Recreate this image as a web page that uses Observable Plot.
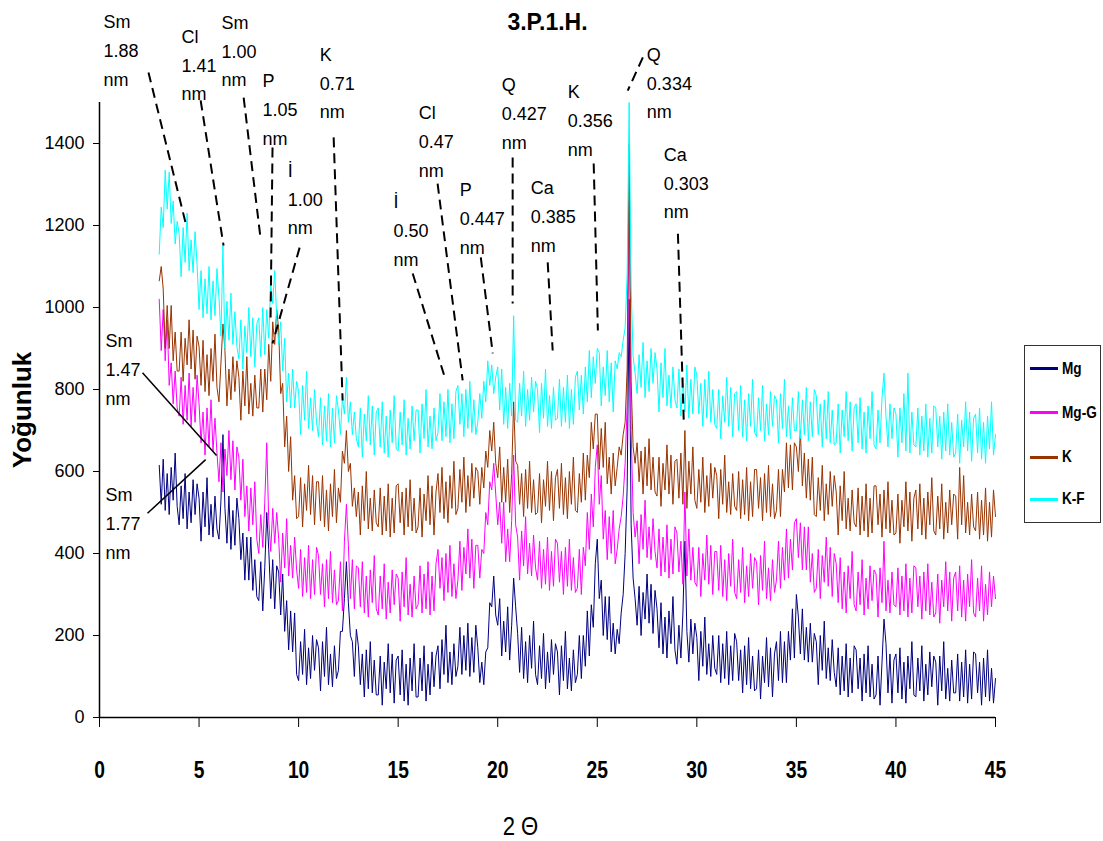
<!DOCTYPE html>
<html><head><meta charset="utf-8">
<script src="https://cdn.jsdelivr.net/npm/d3@7"></script>
<script src="https://cdn.jsdelivr.net/npm/@observablehq/plot@0.6"></script>
<style>
body{margin:0;background:#fff;}
#wrap{position:relative;width:1103px;height:841px;}
#legend{position:absolute;left:1024px;top:345px;width:77px;height:178px;border:1.5px solid #333;box-sizing:border-box;background:#fff;
 font-family:"Liberation Sans",Arial,sans-serif;font-weight:bold;font-size:17px;}
.item{position:absolute;left:5px;height:20px;display:flex;align-items:center;white-space:nowrap;}
.sw{width:28px;height:3px;margin-right:4px;flex:none;}
.lt{display:inline-block;transform:scaleX(0.8);transform-origin:left center;}
</style>
</head><body><div id="wrap"><div id="legend"></div></div>
<script>
// ---- data ----
const seriesNames = ["Mg", "Mg-G", "K", "K-F"];
const seriesColors = ["#000080", "#FF00FF", "#993300", "#00FFFF"];
// 2θ sampling grid: 3.0 .. 45.0 every 0.1°
const theta = d3.range(421).map(i => Math.round((3 + 0.1 * i) * 10) / 10);

const mg = [
 615,520,630,505,595,495,610,530,645,515,
 470,565,485,595,460,550,475,580,495,570,
 535,430,550,465,585,445,520,440,540,460,
 435,530,690,510,425,540,410,505,420,535,
 485,385,450,335,440,335,440,310,385,295,
 285,380,260,365,500,410,290,385,265,370,
 355,250,350,210,285,165,260,160,255,105,
 90,185,105,215,80,170,95,200,115,190,
 170,65,185,100,220,80,155,75,175,95,
 115,210,210,290,380,280,200,185,100,215,
 175,80,155,50,165,70,185,60,140,55,
 55,150,30,135,70,180,60,155,35,140,
 150,55,165,40,130,30,145,65,180,50,
 50,145,65,175,40,130,55,160,75,150,
 175,70,190,105,225,85,160,80,180,100,
 125,220,105,200,115,230,100,195,110,225,
 170,85,135,80,160,170,280,270,345,250,
 225,290,150,235,160,270,140,225,340,270,
 205,110,220,95,185,85,200,120,235,105,
 80,175,95,205,70,160,85,190,105,180,
 160,55,175,90,210,70,145,65,165,85,
 105,200,95,200,125,260,150,275,220,375,
 435,290,335,200,295,190,295,160,230,155,
 215,180,255,300,400,560,1020,470,340,290,
 225,320,200,305,240,350,230,325,205,310,
 265,170,280,155,245,145,260,180,295,165,
 130,225,145,255,430,210,135,240,155,230,
 195,90,210,125,245,105,180,100,200,120,
 105,200,85,180,95,210,80,175,90,205,
 185,90,165,60,175,80,195,70,150,65,
 70,165,45,150,85,195,75,170,50,155,
 185,90,210,85,185,85,210,140,265,145,
 300,245,155,265,140,220,135,230,135,205,
 185,80,200,115,235,95,170,90,190,110,
 75,170,55,150,65,180,50,145,60,175,
 165,70,145,40,155,60,175,50,130,45,
 55,150,30,135,240,180,60,155,35,140,
 155,60,170,45,135,35,150,70,185,55,
 50,145,65,175,40,130,55,160,75,150,
 135,30,150,65,185,45,120,40,140,60,
 60,155,40,135,50,165,35,130,45,160,
 155,60,135,30,145,50,165,40,120,35,
 95
];
const mgG = [
 1020,895,995,870,970,810,865,765,845,755,
 735,830,715,810,725,840,710,805,720,835,
 765,670,745,640,755,660,775,650,730,645,
 575,670,550,655,590,700,580,675,555,660,
 635,530,630,490,565,455,560,470,575,435,
 400,495,415,525,670,480,405,510,425,500,
 435,330,450,365,485,345,420,340,440,360,
 315,410,295,390,305,420,290,385,300,415,
 395,300,375,270,385,290,405,280,360,275,
 285,380,260,430,520,420,290,385,265,370,
 365,270,380,255,345,245,360,280,395,265,
 250,345,265,375,240,330,255,360,275,350,
 340,235,355,270,390,250,325,245,345,265,
 275,370,255,350,265,380,250,345,260,375,
 410,315,390,285,400,305,420,295,375,290,
 335,430,310,415,350,460,340,435,315,420,
 420,340,410,400,500,470,575,555,620,545,
 470,525,425,525,380,460,380,480,640,470,
 440,335,455,370,490,350,425,345,445,365,
 335,430,315,410,325,440,310,405,320,435,
 425,330,405,300,415,320,435,310,390,305,
 315,410,300,415,370,500,410,545,465,610,
 665,520,590,435,505,385,490,400,505,375,
 410,460,490,540,620,760,1260,700,500,440,
 480,375,495,410,530,390,465,385,485,405,
 365,460,345,440,355,470,340,435,350,465,
 450,355,430,325,550,345,460,335,415,330,
 320,415,295,400,335,445,325,420,300,405,
 405,310,420,295,385,285,400,320,435,305,
 290,385,305,415,280,370,295,400,315,390,
 380,275,395,310,430,290,365,285,385,305,
 335,430,315,415,335,460,340,435,360,475,
 485,390,475,360,465,360,465,330,400,305,
 315,410,290,395,330,440,320,415,295,400,
 375,280,390,265,355,255,370,290,405,275,
 260,355,275,385,250,340,265,370,285,360,
 350,245,365,280,430,260,335,255,355,275,
 270,365,250,345,260,375,245,340,255,370,
 365,270,345,240,355,260,375,250,330,245,
 255,350,230,335,270,380,260,355,235,340,
 355,260,370,245,335,235,350,270,385,255,
 245,340,260,370,235,325,250,355,270,345,
 290
];
const k = [
 1065,1100,1045,900,1005,900,1005,870,940,845,
 845,940,820,925,860,970,850,945,825,930,
 905,810,920,795,885,785,900,820,935,805,
 770,865,960,895,760,850,775,880,795,870,
 830,725,845,760,880,740,815,735,835,755,
 755,850,745,850,775,910,820,965,910,995,
 945,790,815,660,735,600,685,530,590,485,
 490,585,465,570,505,615,495,590,470,575,
 575,480,590,465,555,455,570,490,605,475,
 560,525,650,620,700,600,620,515,560,490,
 550,445,565,480,600,460,535,455,555,475,
 465,560,445,540,455,570,440,535,450,565,
 570,475,550,445,560,465,580,455,535,450,
 465,560,440,545,480,590,470,565,445,550,
 595,500,610,485,575,475,590,510,625,495,
 510,605,525,635,500,590,515,620,535,610,
 600,520,610,560,650,610,700,650,720,620,
 585,660,525,610,525,630,500,595,770,625,
 615,520,595,490,605,510,625,500,580,495,
 500,595,475,580,515,625,505,600,480,585,
 605,510,620,495,585,485,600,520,635,505,
 500,595,525,645,530,640,585,720,655,740,
 740,605,705,610,720,570,635,545,645,565,
 610,660,640,690,720,850,1400,820,660,620,
 670,575,650,545,660,565,680,555,635,550,
 540,635,515,620,555,665,545,640,520,625,
 630,535,645,520,700,510,625,545,660,530,
 510,605,525,635,500,590,515,620,535,610,
 590,485,605,520,640,500,575,495,595,515,
 505,600,485,580,495,610,480,575,490,605,
 605,510,585,480,595,500,615,490,570,485,
 505,605,490,605,550,670,560,665,555,670,
 660,600,700,565,645,535,630,530,635,495,
 490,585,505,615,480,570,495,600,515,590,
 550,445,565,480,600,460,535,455,555,475,
 465,560,445,540,455,570,440,535,450,565,
 565,470,545,440,555,460,575,450,530,445,
 450,545,425,530,465,575,455,550,430,535,
 555,460,570,445,535,435,550,470,585,455,
 445,540,460,570,435,525,450,555,470,545,
 540,435,610,470,590,450,525,445,545,465,
 455,550,435,530,445,560,430,525,440,555,
 490
];
const kF = [
 1130,1245,1195,1335,1240,1330,1205,1260,1155,1210,
 1180,1075,1195,1110,1230,1090,1165,1085,1185,1105,
 995,1090,975,1070,985,1100,970,1065,980,1095,
 1025,930,1150,900,1015,920,1035,910,990,905,
 875,970,850,955,890,1000,880,975,855,960,
 975,880,1000,885,995,925,1060,1010,1090,975,
 910,965,845,925,770,840,755,850,755,820,
 795,690,810,725,845,705,780,700,800,720,
 685,780,665,760,675,790,660,755,670,785,
 750,690,780,740,830,720,770,690,745,680,
 660,755,635,740,675,785,665,760,640,745,
 755,660,770,645,735,635,750,670,785,655,
 650,745,665,775,640,730,655,760,675,750,
 750,645,765,680,800,660,735,655,755,675,
 695,790,675,770,685,800,670,765,680,795,
 810,715,790,685,800,705,820,695,775,690,
 720,790,730,820,770,870,810,860,790,830,
 855,750,850,715,805,705,815,735,980,725,
 720,815,735,845,710,800,725,830,745,820,
 800,695,815,730,850,710,785,705,805,725,
 730,825,710,805,720,835,705,800,715,830,
 845,750,835,740,855,770,895,780,880,815,
 900,890,760,855,785,895,770,865,745,870,
 850,890,880,920,950,1080,1500,1050,880,840,
 790,885,805,915,780,870,795,900,815,890,
 850,745,865,780,900,760,835,755,855,775,
 755,850,735,830,745,860,730,825,740,855,
 835,740,815,710,825,730,845,720,800,715,
 705,800,680,785,720,830,710,805,685,790,
 795,700,810,685,775,675,790,710,825,695,
 685,780,700,810,675,765,690,795,710,785,
 775,670,790,705,825,685,760,680,780,700,
 700,795,680,775,690,805,675,770,685,800,
 785,690,765,660,775,680,795,670,750,665,
 670,765,645,750,685,795,675,770,650,755,
 765,670,780,655,745,645,760,680,795,665,
 655,750,670,780,840,735,660,765,680,755,
 740,635,755,670,790,650,840,645,745,665,
 660,755,640,735,650,765,635,730,645,760,
 755,660,735,630,745,650,765,640,720,635,
 645,740,620,725,660,770,650,745,625,730,
 740,645,755,630,720,620,735,655,770,640,
 690
];
const seriesValues = [mg, mgG, k, kF];

const xTicks = [0, 5, 10, 15, 20, 25, 30, 35, 40, 45];
const yTicks = [0, 200, 400, 600, 800, 1000, 1200, 1400];

// peak annotations
const annLabels = ["Sm\n1.88\nnm", "Cl\n1.41\nnm", "Sm\n1.00\nnm", "P\n1.05\nnm", "İ\n1.00\nnm", "K\n0.71\nnm",
  "İ\n0.50\nnm", "Cl\n0.47\nnm", "P\n0.447\nnm", "Q\n0.427\nnm", "Ca\n0.385\nnm", "K\n0.356\nnm",
  "Q\n0.334\nnm", "Ca\n0.303\nnm", "Sm\n1.47\nnm", "Sm\n1.77\nnm"];
const annX = [0.20, 4.12, 6.13, 8.19, 9.45, 11.06, 14.77, 16.03, 18.09, 20.20, 21.66, 23.52, 27.49, 28.34, 0.30, 0.30];
const annY = [1634, 1598, 1632, 1490, 1271, 1554, 1195, 1412, 1224, 1480, 1229, 1463, 1554, 1310, 856, 480];
const leadX1 = [2.46, 5.08, 7.24, 8.69, 10.05, 11.76, 15.73, 16.98, 19.15, 20.75, 22.51, 24.82, 27.29, 29.05, 2.16, 2.41];
const leadY1 = [1573, 1505, 1512, 1390, 1146, 1415, 1083, 1302, 1122, 1366, 1110, 1351, 1610, 1180, 841, 498];
const leadX2 = [4.32, 6.23, 8.09, 8.59, 8.69, 12.21, 17.39, 18.24, 19.75, 20.75, 22.76, 25.03, 26.53, 29.35, 5.88, 5.33];
const leadY2 = [1207, 1151, 1168, 963, 912, 773, 822, 822, 888, 1010, 895, 944, 1529, 712, 639, 629];
const leadDashed = [true, true, true, true, true, true, true, true, true, true, true, true, true, true, false, false];

// ---- build tables ----
const lineData = seriesNames.map((name, s) => theta.map((t, i) => ({theta: t, value: seriesValues[s][i], series: name})));
const ann = annLabels.map((label, i) => ({label, x: annX[i], y: annY[i]}));
const leaders = leadX1.map((_, i) => ({x1: leadX1[i], y1: leadY1[i], x2: leadX2[i], y2: leadY2[i], dashed: leadDashed[i]}));

const arial = '"Liberation Sans",Arial,sans-serif';

const chart = Plot.plot({
  width: 1103, height: 841,
  marginLeft: 99, marginRight: 108, marginTop: 102, marginBottom: 124,
  style: {fontFamily: arial, background: "#fff", color: "#000"},
  x: {domain: [0, 45]},
  y: {domain: [0, 1500]},
  marks: [
    ...lineData.map((d, s) => Plot.line(d, {x: "theta", y: "value", stroke: seriesColors[s], strokeWidth: 1})),
    Plot.ruleY([0], {stroke: "#000", strokeWidth: 1.5}),
    Plot.ruleX([0], {stroke: "#000", strokeWidth: 1.5}),
    Plot.axisX({ticks: xTicks, tickSize: 10, tickPadding: 33, fontSize: 24, fontWeight: "bold", label: null, stroke: "#000"}),
    Plot.axisY({ticks: yTicks, tickFormat: d => String(d), tickSize: 6, tickPadding: 9, fontSize: 18, label: null}),
    Plot.link(leaders.filter(d => d.dashed), {x1: "x1", y1: "y1", x2: "x2", y2: "y2", stroke: "#000", strokeWidth: 2, strokeDasharray: "10,6"}),
    Plot.link(leaders.filter(d => !d.dashed), {x1: "x1", y1: "y1", x2: "x2", y2: "y2", stroke: "#000", strokeWidth: 1.5}),
    Plot.text(ann, {x: "x", y: "y", text: "label", textAnchor: "start", lineAnchor: "middle", lineHeight: 1.6, fontSize: 18, fill: "#000"}),
    Plot.text(["3.P.1.H."], {text: d => d, frameAnchor: "top", lineAnchor: "middle", dy: -80, fontSize: 23, fontWeight: "bold", fill: "#000"}),
    Plot.text(["Yoğunluk"], {text: d => d, frameAnchor: "left", textAnchor: "middle", lineAnchor: "middle", dx: -77, rotate: -90, fontSize: 26, fontWeight: "bold", fill: "#000"}),
    Plot.text(["2 Θ"], {text: d => d, frameAnchor: "bottom", lineAnchor: "middle", dy: 109, dx: -27, fontSize: 26, fill: "#000"})
  ]
});
document.getElementById("wrap").prepend(chart);

// condense the narrow-font texts (x tick labels and the x title)
chart.querySelectorAll('g[aria-label="x-axis tick label"] text').forEach(t => {
  const len = t.getComputedTextLength();
  t.setAttribute("textLength", (len * 0.8).toFixed(1));
  t.setAttribute("lengthAdjust", "spacingAndGlyphs");
});
chart.querySelectorAll("text").forEach(t => {
  if (t.textContent === "2 Θ") {
    const len = t.getComputedTextLength();
    t.setAttribute("textLength", (len * 0.85).toFixed(1));
    t.setAttribute("lengthAdjust", "spacingAndGlyphs");
  }
});

// legend
const legend = document.getElementById("legend");
const legendCenters = [22.7, 66.7, 111, 153];
seriesNames.forEach((name, s) => {
  const it = document.createElement("div");
  it.className = "item";
  it.style.top = (legendCenters[s] - 10) + "px";
  it.innerHTML = `<span class="sw" style="background:${seriesColors[s]}"></span><span class="lt">${name}</span>`;
  legend.appendChild(it);
});
</script></body></html>
